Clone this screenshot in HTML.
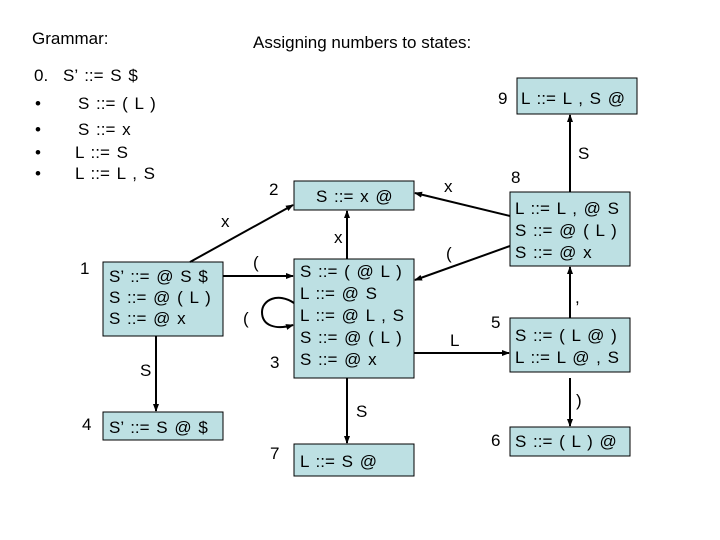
<!DOCTYPE html>
<html><head><meta charset="utf-8"><style>
html,body{margin:0;padding:0;background:#fff}
svg{display:block}
text{font-family:"Liberation Sans",Arial,sans-serif;font-size:17px;fill:#000}
.t{font-size:18px;word-spacing:2px}
.b{fill:#bde0e3;stroke:#000;stroke-width:1}
.l{stroke:#000;stroke-width:2;fill:none}
</style></head><body>
<svg width="720" height="540" viewBox="0 0 720 540">
<defs><marker id="a" markerWidth="8" markerHeight="8" refX="7" refY="4" orient="auto" markerUnits="userSpaceOnUse"><path d="M0,1 L8,4 L0,7 z" fill="#000"/></marker></defs>
<text x="32" y="44">Grammar:</text>
<text x="253" y="48">Assigning numbers to states:</text>
<g class="t">
<text x="34" y="81">0.</text><text x="63" y="81">S’ ::= S $</text>
<text x="35" y="109">•</text><text x="78" y="109">S ::= ( L )</text>
<text x="35" y="135">•</text><text x="78" y="135">S ::= x</text>
<text x="35" y="158">•</text><text x="75" y="158">L ::= S</text>
<text x="35" y="179">•</text><text x="75" y="179">L ::= L , S</text>
</g>
<rect class="b" x="294" y="181" width="120" height="29"/>
<rect class="b" x="103" y="262" width="120" height="74"/>
<rect class="b" x="294" y="259" width="120" height="119"/>
<rect class="b" x="103" y="412" width="120" height="28"/>
<rect class="b" x="294" y="444" width="120" height="32"/>
<rect class="b" x="517" y="78" width="120" height="36"/>
<rect class="b" x="510" y="192" width="120" height="74"/>
<rect class="b" x="510" y="318" width="120" height="54"/>
<rect class="b" x="510" y="427" width="120" height="29"/>
<g class="t">
<text x="316" y="202">S ::= x @</text>
<text x="109" y="282">S’ ::= @ S $</text><text x="109" y="303">S ::= @ ( L )</text><text x="109" y="324">S ::= @ x</text>
<text x="300" y="277">S ::= ( @ L )</text><text x="300" y="299">L ::= @ S</text><text x="300" y="321">L ::= @ L , S</text><text x="300" y="343">S ::= @ ( L )</text><text x="300" y="365">S ::= @ x</text>
<text x="109" y="433">S’ ::= S @ $</text>
<text x="300" y="467">L ::= S @</text>
<text x="521" y="104">L ::= L , S @</text>
<text x="515" y="214">L ::= L , @ S</text><text x="515" y="236">S ::= @ ( L )</text><text x="515" y="258">S ::= @ x</text>
<text x="515" y="341">S ::= ( L @ )</text><text x="515" y="363">L ::= L @ , S</text>
<text x="515" y="447">S ::= ( L ) @</text>
</g>
<text x="269" y="195">2</text>
<text x="80" y="274">1</text>
<text x="270" y="368">3</text>
<text x="82" y="430">4</text>
<text x="270" y="459">7</text>
<text x="498" y="104">9</text>
<text x="511" y="183">8</text>
<text x="491" y="328">5</text>
<text x="491" y="446">6</text>

<line class="l" x1="190" y1="262" x2="293" y2="205" marker-end="url(#a)"/>
<text x="221" y="227">x</text>
<line class="l" x1="223" y1="276" x2="293" y2="276" marker-end="url(#a)"/>
<text x="253" y="268">(</text>
<line class="l" x1="347" y1="259" x2="347" y2="211" marker-end="url(#a)"/>
<text x="334" y="243">x</text>
<path class="l" d="M294,303 C278,292 262,300 262,312 C262,326 276,330 293,325" marker-end="url(#a)"/>
<text x="243" y="324">(</text>
<line class="l" x1="156" y1="336" x2="156" y2="411" marker-end="url(#a)"/>
<text x="140" y="376">S</text>
<line class="l" x1="347" y1="378" x2="347" y2="443" marker-end="url(#a)"/>
<text x="356" y="417">S</text>
<line class="l" x1="510" y1="216" x2="415" y2="193" marker-end="url(#a)"/>
<text x="444" y="192">x</text>
<line class="l" x1="510" y1="246" x2="415" y2="280" marker-end="url(#a)"/>
<text x="446" y="259">(</text>
<line class="l" x1="414" y1="353" x2="509" y2="353" marker-end="url(#a)"/>
<text x="450" y="346">L</text>
<line class="l" x1="570" y1="192" x2="570" y2="115" marker-end="url(#a)"/>
<text x="578" y="159">S</text>
<line class="l" x1="570" y1="318" x2="570" y2="267" marker-end="url(#a)"/>
<text x="575" y="303">,</text>
<line class="l" x1="570" y1="378" x2="570" y2="426" marker-end="url(#a)"/>
<text x="576" y="406">)</text>
</svg>
</body></html>
